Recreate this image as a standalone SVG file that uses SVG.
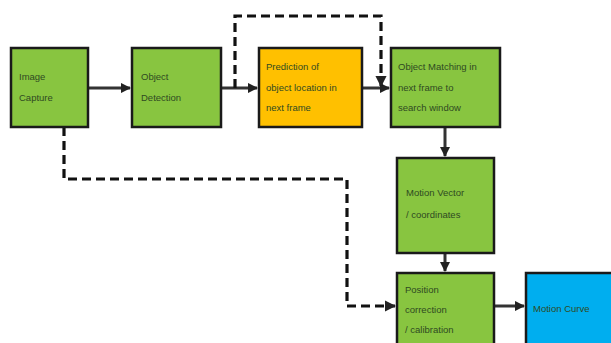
<svg xmlns="http://www.w3.org/2000/svg" width="611" height="343" viewBox="0 0 611 343">
<defs>
<style>
.box{stroke:#1a1a1a;stroke-width:2.5}
.g{fill:#88C540}
.o{fill:#FFC000}
.b{fill:#00AEEF}
.t{font-family:"Liberation Sans",Arial,sans-serif;font-size:9.5px;fill:#2f4a22}
.ln{fill:none;stroke:#333;stroke-width:3}
.dash{fill:none;stroke:#111;stroke-width:3.2;stroke-dasharray:9 5}
</style>
<marker id="ah" viewBox="0 0 10 10" refX="9" refY="5" markerWidth="3.5" markerHeight="3.5" orient="auto" markerUnits="strokeWidth">
<path d="M0,0 L10,5 L0,10 z" fill="#222"/>
</marker>
</defs>
<rect width="611" height="343" fill="#fff"/>
<g id="connectors">
<line class="ln" x1="88" y1="88" x2="130" y2="88" marker-end="url(#ah)"/>
<line class="ln" x1="221" y1="88" x2="257" y2="88" marker-end="url(#ah)"/>
<line class="ln" x1="362" y1="88" x2="389" y2="88" marker-end="url(#ah)"/>
<line class="ln" x1="445" y1="127" x2="445" y2="156" marker-end="url(#ah)"/>
<line class="ln" x1="445" y1="253" x2="445" y2="271" marker-end="url(#ah)"/>
<line class="ln" x1="494" y1="306" x2="524" y2="306" marker-end="url(#ah)"/>
<path class="dash" d="M235,88 V16 H381 V86" marker-end="url(#ah)"/>
<path class="dash" d="M64,127 V179 H347 V306 H395" marker-end="url(#ah)"/>
</g>
<g id="n1"><rect class="box g" x="11" y="48" width="77" height="79"/>
<text class="t" x="19" y="80">Image</text><text class="t" x="19" y="101">Capture</text></g>
<g id="n2"><rect class="box g" x="132" y="48" width="89" height="79"/>
<text class="t" x="141" y="80">Object</text><text class="t" x="141" y="101">Detection</text></g>
<g id="n3"><rect class="box o" x="259" y="48" width="103" height="79"/>
<text class="t" x="266" y="70">Prediction of</text><text class="t" x="266" y="91">object location in</text><text class="t" x="266" y="111">next frame</text></g>
<g id="n4"><rect class="box g" x="391" y="48" width="109" height="79"/>
<text class="t" x="398" y="70">Object Matching in</text><text class="t" x="398" y="91">next frame to</text><text class="t" x="398" y="111">search window</text></g>
<g id="n5"><rect class="box g" x="397" y="158" width="97" height="95"/>
<text class="t" x="406" y="196">Motion Vector</text><text class="t" x="406" y="218">/ coordinates</text></g>
<g id="n6"><rect class="box g" x="397" y="273" width="97" height="72"/>
<text class="t" x="405" y="293">Position</text><text class="t" x="405" y="313">correction</text><text class="t" x="405" y="333">/ calibration</text></g>
<g id="n7"><rect class="box b" x="526" y="273" width="90" height="72"/>
<text class="t" x="533" y="312">Motion Curve</text></g>
</svg>
